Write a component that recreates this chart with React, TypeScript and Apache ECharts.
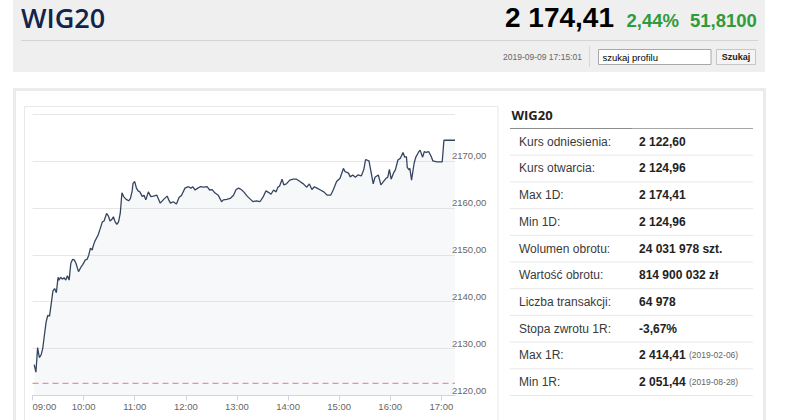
import React, { useEffect, useRef } from 'react';
import * as echarts from 'echarts';

// ---- header data ----
const indexName = 'WIG20';
const lastValue = '2 174,41';
const changePct = '2,44%';
const changePts = '51,8100';
const timestamp = '2019-09-09 17:15:01';
const searchPlaceholder = 'szukaj profilu';
const searchButton = 'Szukaj';

// ---- chart data ----
const referenceLevel = 2122.6; // Kurs odniesienia

const intraday: [string, number][] = [
  ['09:02', 2126.6], ['09:04', 2124.96], ['09:06', 2130.2], ['09:08', 2128.1], ['09:10', 2128.6],
  ['09:12', 2130.0], ['09:14', 2132.9], ['09:16', 2135.7], ['09:18', 2137.1], ['09:20', 2136.9],
  ['09:22', 2139.6], ['09:24', 2142.3], ['09:26', 2142.8], ['09:28', 2141.9], ['09:30', 2145.2],
  ['09:31', 2144.6], ['09:33', 2145.2], ['09:35', 2144.8], ['09:37', 2145.1], ['09:39', 2144.6],
  ['09:41', 2145.5], ['09:43', 2144.6], ['09:45', 2148.2], ['09:47', 2149.0], ['09:49', 2148.9],
  ['09:51', 2148.2], ['09:54', 2146.4], ['09:57', 2147.4], ['09:59', 2147.9], ['10:02', 2148.9],
  ['10:04', 2149.0], ['10:06', 2149.9], ['10:08', 2151.4], ['10:10', 2151.0], ['10:11', 2151.7],
  ['10:13', 2152.8], ['10:17', 2154.2], ['10:19', 2155.3], ['10:22', 2157.0], ['10:24', 2157.2],
  ['10:27', 2158.8], ['10:29', 2158.3], ['10:31', 2157.2], ['10:33', 2157.5], ['10:35', 2158.1],
  ['10:37', 2157.0], ['10:39', 2156.5], ['10:41', 2157.0], ['10:43', 2158.8], ['10:45', 2163.2],
  ['10:47', 2162.4], ['10:50', 2161.8], ['10:53', 2161.5], ['10:55', 2162.0], ['10:57', 2163.6],
  ['10:58', 2165.2], ['11:00', 2165.6], ['11:02', 2164.2], ['11:04', 2163.6], ['11:06', 2163.4],
  ['11:09', 2162.4], ['11:11', 2162.7], ['11:13', 2161.7], ['11:16', 2163.4], ['11:19', 2162.4],
  ['11:22', 2162.5], ['11:26', 2162.7], ['11:30', 2161.0], ['11:34', 2161.8], ['11:38', 2162.5],
  ['11:40', 2161.7], ['11:42', 2161.0], ['11:45', 2161.3], ['11:49', 2160.8], ['11:52', 2162.2],
  ['11:55', 2162.7], ['11:59', 2164.2], ['12:03', 2164.5], ['12:06', 2164.2], ['12:08', 2164.5],
  ['12:11', 2163.8], ['12:14', 2164.2], ['12:17', 2164.5], ['12:21', 2164.4], ['12:25', 2164.5],
  ['12:28', 2163.8], ['12:31', 2163.9], ['12:34', 2163.2], ['12:38', 2162.7], ['12:42', 2161.3],
  ['12:44', 2161.7], ['12:48', 2161.8], ['12:52', 2162.0], ['12:56', 2162.7], ['12:59', 2163.9],
  ['13:02', 2164.2], ['13:05', 2163.9], ['13:08', 2163.4], ['13:12', 2162.5], ['13:16', 2161.8],
  ['13:19', 2161.3], ['13:23', 2161.5], ['13:27', 2161.3], ['13:31', 2162.4], ['13:34', 2163.6],
  ['13:37', 2163.3], ['13:40', 2162.9], ['13:43', 2163.8], ['13:46', 2163.4], ['13:48', 2164.4],
  ['13:50', 2164.6], ['13:53', 2166.1], ['13:55', 2164.9], ['13:58', 2165.1], ['14:02', 2165.9],
  ['14:06', 2166.1], ['14:10', 2166.1], ['14:14', 2165.6], ['14:18', 2165.1], ['14:22', 2164.4],
  ['14:25', 2165.1], ['14:28', 2163.9], ['14:31', 2164.5], ['14:34', 2164.2], ['14:38', 2163.8],
  ['14:42', 2163.4], ['14:46', 2162.7], ['14:50', 2162.7], ['14:53', 2163.8], ['14:57', 2165.6],
  ['15:01', 2166.3], ['15:05', 2168.4], ['15:07', 2167.7], ['15:11', 2167.4], ['15:13', 2166.6],
  ['15:16', 2167.0], ['15:19', 2166.5], ['15:22', 2167.0], ['15:26', 2166.8], ['15:29', 2168.2],
  ['15:31', 2170.3], ['15:35', 2170.0], ['15:37', 2168.1], ['15:40', 2165.1], ['15:42', 2166.5],
  ['15:46', 2167.0], ['15:49', 2164.9], ['15:52', 2165.6], ['15:55', 2166.3], ['15:57', 2166.5],
  ['15:59', 2168.2], ['16:01', 2166.1], ['16:04', 2167.5], ['16:06', 2168.1], ['16:09', 2170.2],
  ['16:12', 2170.6], ['16:15', 2171.8], ['16:17', 2170.8], ['16:19', 2170.9], ['16:20', 2168.6],
  ['16:22', 2168.1], ['16:23', 2168.4], ['16:25', 2165.9], ['16:28', 2169.5], ['16:30', 2170.8],
  ['16:33', 2171.8], ['16:35', 2172.3], ['16:38', 2170.8], ['16:40', 2172.0], ['16:42', 2171.8],
  ['16:45', 2172.0], ['16:48', 2171.0], ['16:50', 2170.0], ['16:55', 2169.8], ['17:01', 2169.8],
  ['17:03', 2174.41], ['17:16', 2174.41],
];

const xTickLabels = ['09:00', '10:00', '11:00', '12:00', '13:00', '14:00', '15:00', '16:00', '17:00'];
const xAxisStart = '09:00';
const xAxisEnd = '17:16';
const yAxisMin = 2120;
const yAxisMax = 2180;
const yInterval = 10;

// ---- table data ----
const tableTitle = 'WIG20';
const statLabels = [
  'Kurs odniesienia:', 'Kurs otwarcia:', 'Max 1D:', 'Min 1D:', 'Wolumen obrotu:',
  'Wartość obrotu:', 'Liczba transakcji:', 'Stopa zwrotu 1R:', 'Max 1R:', 'Min 1R:',
];
const statValues = [
  '2 122,60', '2 124,96', '2 174,41', '2 124,96', '24 031 978 szt.',
  '814 900 032 zł', '64 978', '-3,67%', '2 414,41', '2 051,44',
];
const statDates = ['', '', '', '', '', '', '', '', '(2019-02-06)', '(2019-08-28)'];

const toMin = (t: string) => {
  const [h, m] = t.split(':').map(Number);
  const [h0, m0] = xAxisStart.split(':').map(Number);
  return (h - h0) * 60 + (m - m0);
};

const SANS = '"Liberation Sans", Arial, sans-serif';
const OPEN = '"Open Sans", "Liberation Sans", sans-serif';

function buildGraphics() {
  const els: any[] = [];
  const txt = (text: string, x: number, y: number, font: string, fill: string, align = 'left', extra: any = {}) => ({
    type: 'text',
    silent: true,
    style: {
      text, x, y, font, fill,
      align, textAlign: align,
      verticalAlign: 'middle', textVerticalAlign: 'middle',
      ...extra,
    },
  });
  const line = (x1: number, y1: number, x2: number, y2: number, stroke: string, lineWidth = 1) => ({
    type: 'line', silent: true,
    shape: { x1, y1, x2, y2 },
    style: { stroke, lineWidth },
  });

  // header
  els.push({ type: 'rect', silent: true, shape: { x: 13, y: 0, width: 752, height: 72 }, style: { fill: '#efefef' } });
  els.push(txt(indexName, 21, 17, `600 27px ${OPEN}`, '#13234a'));
  els.push(txt(lastValue, 505, 17.5, `bold 28px ${SANS}`, '#000000'));
  els.push(txt(changePct, 626.5, 20, `bold 18.5px ${SANS}`, '#2f9b3b'));
  els.push(txt(changePts, 690, 20, `bold 18.5px ${SANS}`, '#2f9b3b'));
  els.push(line(21, 40.5, 758, 40.5, '#d4d4d4'));
  els.push(txt(timestamp, 503, 57.3, `normal 8.5px ${SANS}`, '#666666'));
  els.push(line(589.5, 46, 589.5, 67, '#d8d8d8'));
  els.push({ type: 'rect', silent: true, shape: { x: 598.5, y: 49.5, width: 112.5, height: 15 }, style: { fill: '#ffffff', stroke: '#a8a8a8', lineWidth: 1 } });
  els.push(txt(searchPlaceholder, 602.5, 57, `normal 9.5px ${SANS}`, '#000000'));
  els.push({ type: 'rect', silent: true, shape: { x: 716.5, y: 49.5, width: 39, height: 15 }, style: { fill: '#f4f4f4', stroke: '#c6c6c6', lineWidth: 1 } });
  els.push(txt(searchButton, 736, 57, `bold 9px ${SANS}`, '#222222', 'center'));

  // panel
  els.push({ type: 'rect', silent: true, shape: { x: 14.5, y: 89.5, width: 750, height: 340 }, style: { fill: 'transparent', stroke: '#ebebeb', lineWidth: 3 } });
  els.push({ type: 'rect', silent: true, shape: { x: 24.5, y: 106.5, width: 473.5, height: 330 }, style: { fill: 'transparent', stroke: '#e8e8e8', lineWidth: 1 } });

  // table
  const top = 128.5;
  const rowH = 26.7;
  els.push(txt(tableTitle, 511.5, 115, `bold 13px ${OPEN}`, '#222222'));
  els.push(line(510, top, 632, top, '#8c8c8c'));
  els.push(line(632, top, 753, top, '#a6a6a6'));
  statLabels.forEach((lab, i) => {
    const cy = top + i * rowH + 13.2;
    els.push(txt(lab, 519, cy, `normal 12px ${SANS}`, '#3a3a3a'));
    const d = statDates[i];
    const text = d ? `{v|${statValues[i]}} {d|${d}}` : `{v|${statValues[i]}}`;
    els.push(txt(text, 639, cy, `bold 12px ${SANS}`, '#222222', 'left', {
      rich: {
        v: { font: `bold 12px ${SANS}`, fill: '#222222' },
        d: { font: `normal 8.5px ${SANS}`, fill: '#666666' },
      },
    }));
    els.push(line(510, top + (i + 1) * rowH, 753, top + (i + 1) * rowH, '#e8e8e8'));
  });
  return els;
}

export default function App() {
  const ref = useRef<HTMLDivElement>(null);
  useEffect(() => {
    if (!ref.current) return;
    document.body.style.margin = '0';
    const chart = echarts.init(ref.current, null, { renderer: 'svg' });
    const tickValues = xTickLabels.map(toMin);
    const xMin = toMin(xAxisStart);
    const xMax = toMin(xAxisEnd);
    const option: any = {
      animation: false,
      backgroundColor: '#ffffff',
      grid: {
        left: 32.5, right: 331, top: 114, bottom: 24.5,
        containLabel: false, outerBoundsMode: 'none',
      },
      xAxis: {
        type: 'value',
        min: xMin,
        max: xMax,
        interval: 60,
        splitLine: { show: false },
        axisLine: { show: true, lineStyle: { color: '#ccd6eb', width: 1 } },
        axisTick: { show: true, length: 5, lineStyle: { color: '#ccd6eb' }, customValues: tickValues },
        axisLabel: {
          customValues: tickValues,
          alignMinLabel: 'left',
          margin: 6,
          fontSize: 9.5,
          fontFamily: SANS,
          color: '#666666',
          formatter: (v: number) => {
            const i = tickValues.indexOf(v);
            return i >= 0 ? xTickLabels[i] : '';
          },
        },
      },
      yAxis: {
        type: 'value',
        position: 'right',
        min: yAxisMin,
        max: yAxisMax,
        interval: yInterval,
        axisLine: { show: false },
        axisTick: { show: false },
        splitLine: { show: true, lineStyle: { color: '#e6e6e6', width: 1 } },
        axisLabel: {
          margin: -3,
          align: 'left',
          verticalAlign: 'bottom',
          fontSize: 9.5,
          fontFamily: SANS,
          color: '#666666',
          formatter: (v: number) => (v === yAxisMax ? '' : v.toFixed(2).replace('.', ',')),
        },
      },
      series: [
        {
          name: 'WIG20',
          type: 'line',
          data: intraday.map(([t, v]) => [toMin(t), v]),
          showSymbol: false,
          symbol: 'none',
          lineStyle: { color: '#36455f', width: 1.3 },
          areaStyle: { color: 'rgba(211,215,227,0.25)', origin: 'start' },
          z: 2,
        },
        {
          name: 'Kurs odniesienia',
          type: 'line',
          data: [[xMin, referenceLevel], [xMax, referenceLevel]],
          showSymbol: false,
          symbol: 'none',
          silent: true,
          lineStyle: { color: '#ee7676', type: [6, 4], width: 1 },
          z: 3,
        },
      ],
      graphic: { elements: buildGraphics() },
    };
    chart.setOption(option);
    return () => chart.dispose();
  }, []);
  return (
    <div
      ref={ref}
      style={{ position: 'fixed', left: 0, top: 0, width: 786, height: 420 }}
    />
  );
}
